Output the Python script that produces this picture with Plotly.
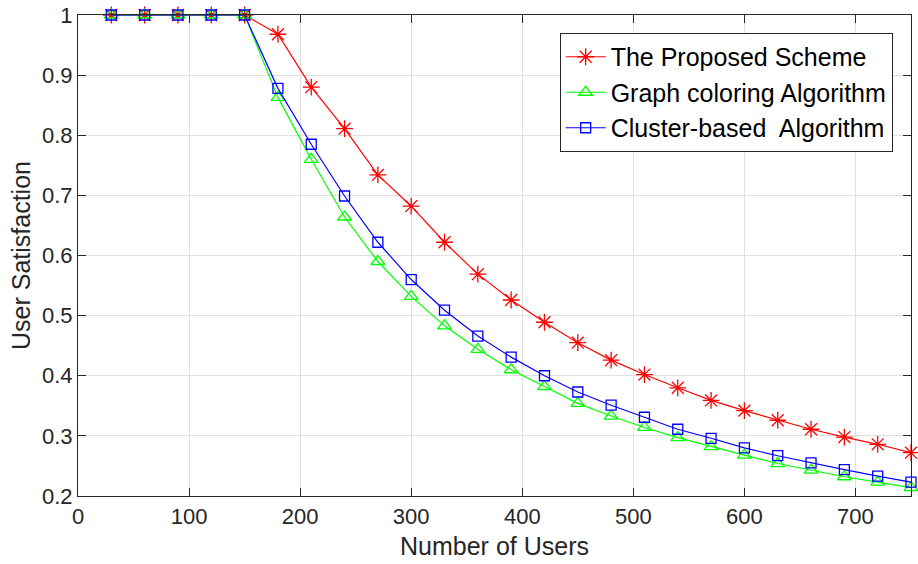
import plotly.graph_objects as go

users = [30, 60, 90, 120, 150, 180, 210, 240, 270, 300, 330, 360, 390, 420, 450,
         480, 510, 540, 570, 600, 630, 660, 690, 720, 750]

proposed = [1, 1, 1, 1, 1, 0.968, 0.880, 0.811, 0.734, 0.682, 0.622, 0.569, 0.526,
            0.489, 0.455, 0.426, 0.402, 0.380, 0.359, 0.342, 0.326, 0.311, 0.298,
            0.286, 0.272]
graph_coloring = [1, 1, 1, 1, 1, 0.863, 0.760, 0.664, 0.590, 0.532, 0.483, 0.444,
                  0.410, 0.382, 0.354, 0.333, 0.314, 0.297, 0.282, 0.268, 0.254,
                  0.243, 0.232, 0.223, 0.214]
cluster_based = [1, 1, 1, 1, 1, 0.878, 0.785, 0.699, 0.622, 0.560, 0.509, 0.466,
                 0.431, 0.400, 0.373, 0.351, 0.331, 0.311, 0.296, 0.280, 0.267,
                 0.255, 0.244, 0.233, 0.223]

names = ["The Proposed Scheme", "Graph coloring Algorithm", "Cluster-based  Algorithm"]
x_ticks = [0, 100, 200, 300, 400, 500, 600, 700]
y_ticks = [0.2, 0.3, 0.4, 0.5, 0.6, 0.7, 0.8, 0.9, 1]
y_ticklabels = ["0.2", "0.3", "0.4", "0.5", "0.6", "0.7", "0.8", "0.9", "1"]

FONT = "Liberation Sans, Arial, Helvetica, sans-serif"
TXT = "#262626"

fig = go.Figure()
series = [
    (proposed, names[0], "#ff0000", "asterisk-open", 14),
    (graph_coloring, names[1], "#00ff00", "triangle-up-open", 12),
    (cluster_based, names[2], "#0000ff", "square-open", 10),
]
for ys, nm, col, sym, sz in series:
    fig.add_trace(go.Scatter(
        x=users, y=ys, name=nm, mode="lines+markers",
        line=dict(color=col, width=1.2),
        marker=dict(symbol=sym, size=sz, color=col, line=dict(color=col, width=1.3)),
        cliponaxis=False,
    ))

axis_common = dict(
    showgrid=True, gridcolor="#e0e0e0", gridwidth=1,
    showline=True, linecolor=TXT, linewidth=1.2, mirror="ticks",
    ticks="inside", ticklen=8, tickwidth=1.2, tickcolor=TXT,
    tickfont=dict(family=FONT, size=22, color=TXT),
    zeroline=False,
)

fig.update_xaxes(
    range=[0, 750], tickvals=x_ticks,
    title=dict(text="Number of Users", font=dict(family=FONT, size=25, color=TXT), standoff=9),
    **axis_common,
)
fig.update_yaxes(
    range=[0.2, 1], tickvals=y_ticks, ticktext=y_ticklabels,
    title=dict(text="User Satisfaction", font=dict(family=FONT, size=25, color=TXT), standoff=4),
    **axis_common,
)

fig.update_layout(
    width=918, height=564,
    margin=dict(l=78, r=7, t=15, b=68, autoexpand=False),
    plot_bgcolor="white", paper_bgcolor="white",
    font=dict(family=FONT, color=TXT),
    legend=dict(
        x=0.978, y=0.9626, xanchor="right", yanchor="top",
        bgcolor="white", bordercolor=TXT, borderwidth=1,
        font=dict(family=FONT, size=25, color="black"),
        tracegroupgap=0, itemwidth=40,
    ),
    showlegend=True,
)

fig.write_html(
    "out.html",
    config={"displayModeBar": False},
    post_script="document.body.style.margin='0';document.body.style.overflow='hidden';",
)
